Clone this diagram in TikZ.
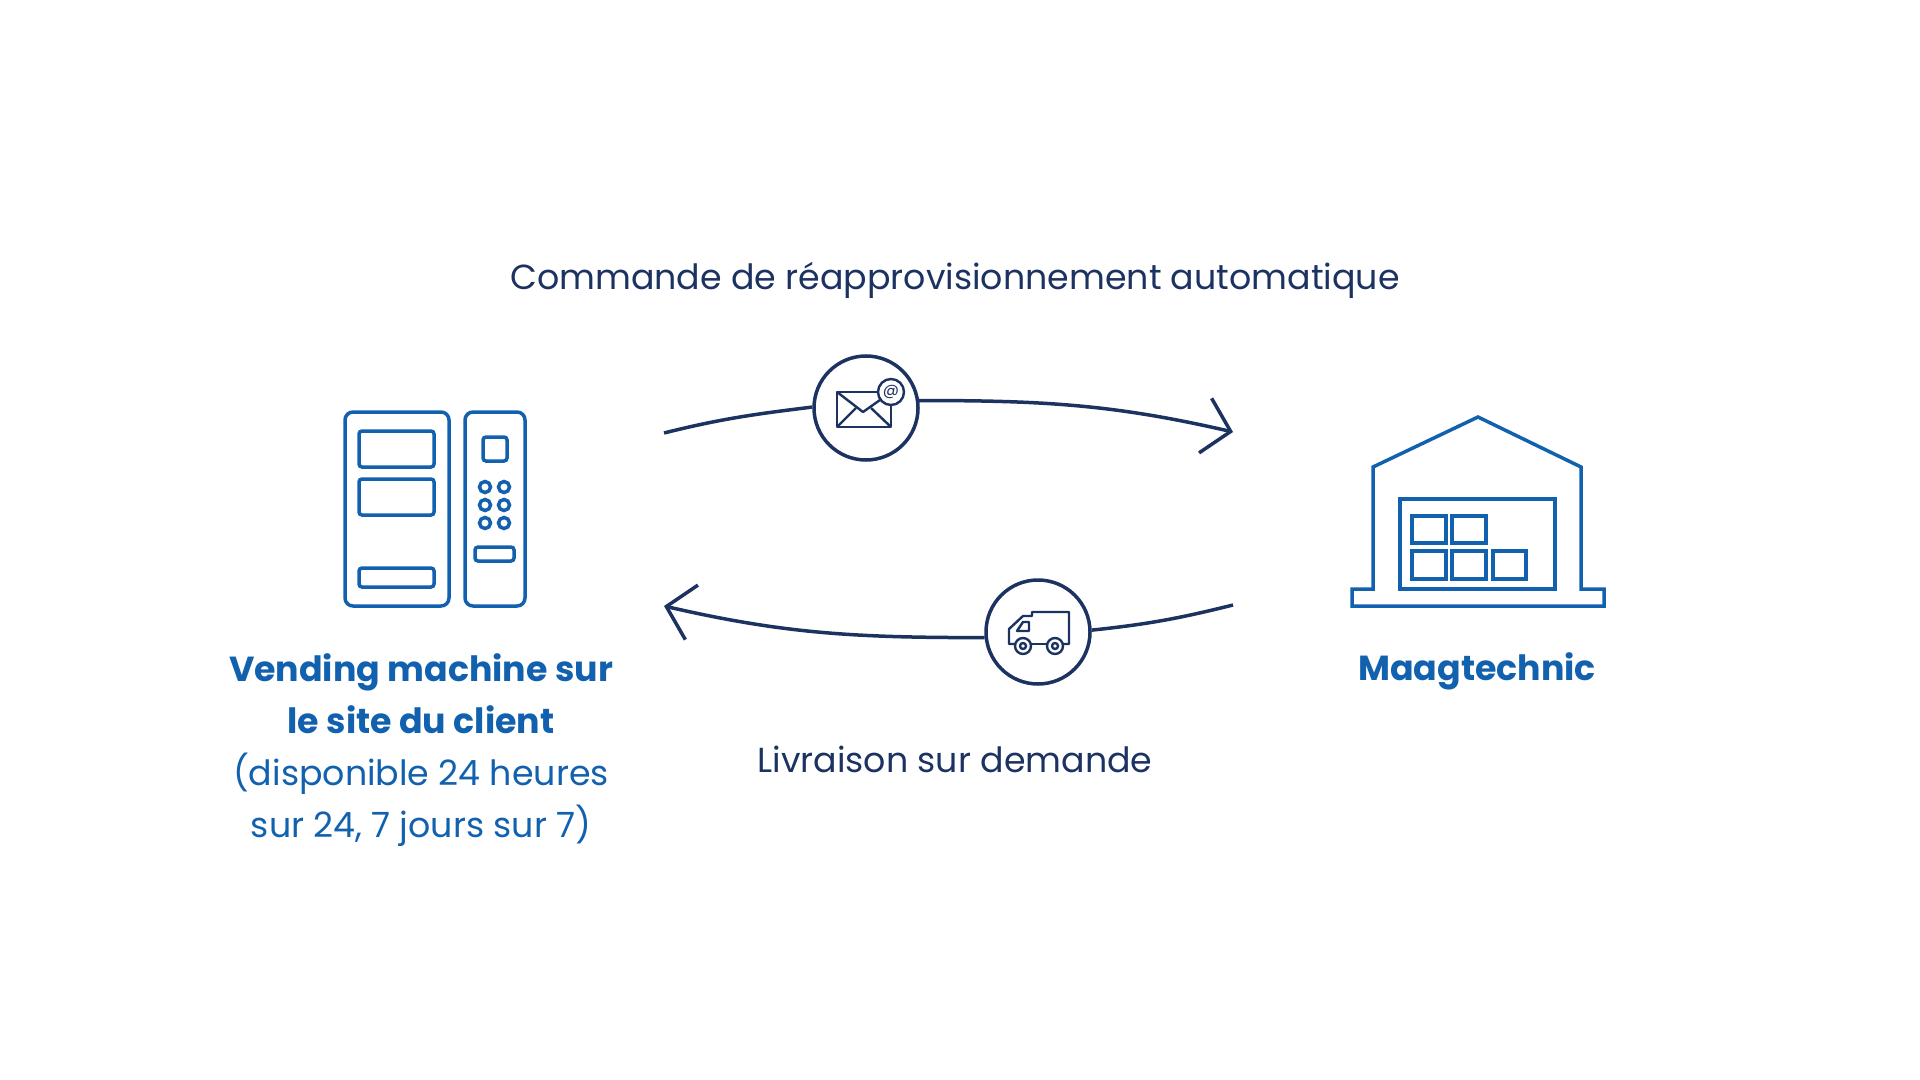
\documentclass[tikz,border=0pt]{standalone}
\usepackage{fontspec}
\setmainfont{Poppins}
\usetikzlibrary{arrows.meta}
\definecolor{navyline}{HTML}{1C3260}
\definecolor{iconblue}{HTML}{1261AE}
\begin{document}
\begin{tikzpicture}[x=0.5pt,y=-0.5pt] % 1 unit = 1 pixel of the 1920x1080 frame
        \tikzset{
            flowline/.style={color=navyline,line width=1.75pt},
            flowtip/.style={-{Straight Barb[length=13pt,width=28pt,line width=1.75pt]}},
            iconline/.style={color=iconblue,line width=1.75pt,line join=miter},
            roundbox/.style={iconline,rounded corners=1.5pt},
            stepicon/.style={circle,draw=navyline,fill=white,line width=1.75pt,minimum size=52pt,inner sep=0pt},
            thinline/.style={color=navyline,line width=1.2pt,line join=round},
            navylabel/.style={text=navyline,font=\fontsize{17.4}{26}\selectfont,align=center},
            bluelabel/.style={text=iconblue,font=\fontsize{17.4}{26}\selectfont,align=center}
        }
        \useasboundingbox (0,0) rectangle (1920,1080);
        % vending machine
        \draw[iconline,rounded corners=4pt] (449,412) -- (345,412) -- (345,606) -- (449,606) -- cycle;
        \draw[iconline,rounded corners=4pt] (465,412) -- (525,412) -- (525,606) -- (465,606) -- cycle;
        \foreach \xa/\ya/\xb/\yb in {
            359/431/434/467,
            359/479/434/515,
            359/568/434/587,
            483/437/507/461,
            475/547/514/561
        } {
            \draw[roundbox] (\xa,\ya) rectangle (\xb,\yb);
        }
        \foreach \xc in {485,504} {
            \foreach \yc in {487,505,523} {
                \draw[iconline] (\xc,\yc) circle (5.5);
            }
        }
        % warehouse
        \draw[iconline] (1373,589) -- (1373,467) -- (1478,417) -- (1581,467) -- (1581,589)
            -- (1604,589) -- (1604,606) -- (1352,606) -- (1352,589) -- cycle;
        \draw[iconline] (1400,589) rectangle (1555,499);
        \foreach \xa/\xb/\ya/\yb in {
            1412/1446/516/543,
            1452/1486/516/543,
            1412/1446/551/579,
            1452/1486/551/579,
            1493/1526/551/579
        } {
            \draw[iconline] (\xa,\ya) rectangle (\xb,\yb);
        }
        % steps of the loop
        \node[stepicon] (mailicon) at (866,408) {};
        \node[stepicon] (truckicon) at (1038,632) {};
        \coordinate (orderstart) at (664,433);
        \coordinate (ordertip) at (1233,432);
        \coordinate (deliverystart) at (1233,605);
        \coordinate (deliverytip) at (664,606);
        \draw[flowline] (orderstart) to[out=14,in=187] (mailicon.179);
        \draw[flowline,flowtip] (mailicon.8) to[out=0,in=167] (ordertip);
        \draw[flowline] (deliverystart) to[out=194,in=6] (truckicon.2);
        \draw[flowline,flowtip] (truckicon.186) to[out=180,in=-13] (deliverytip);
        % envelope
        \draw[thinline] (837,392) rectangle (891,427);
        \draw[thinline] (837,392) -- (863,412) -- (880,400);
        \draw[thinline] (837,427) -- (856,408);
        \draw[thinline] (891,427) -- (871,408);
        \node[circle,draw=navyline,fill=white,line width=1.2pt,minimum size=13pt,inner sep=0pt,
              text=navyline,font=\fontsize{8}{8}\selectfont] (atsign) at (891,392) {@};
        % truck
        \draw[thinline] (1015,644) -- (1009,644) -- (1009,629) -- (1023,616) -- (1032,616)
            -- (1032,612) -- (1069,612) -- (1069,644) -- (1063,644);
        \draw[thinline] (1031,644) -- (1047,644);
        \draw[thinline] (1029,622) -- (1029,631) -- (1017,631) -- (1023,622) -- cycle;
        \foreach \xc in {1023,1055} {
            \draw[thinline] (\xc,646) circle (8);
            \draw[thinline] (\xc,646) circle (3);
        }
        % labels
        \node[navylabel] (ordertext) at (955,280) {Commande de réapprovisionnement automatique};
        \node[navylabel] (deliverytext) at (955,759) {Livraison sur demande};
        \node[bluelabel] (clienttext) at (421,750) {\textbf{Vending machine sur}\\\textbf{le site du client}\\(disponible 24 heures\\sur 24, 7 jours sur 7)};
        \node[bluelabel] (makertext) at (1477,671) {\textbf{Maagtechnic}};
    \end{tikzpicture}
\end{document}
